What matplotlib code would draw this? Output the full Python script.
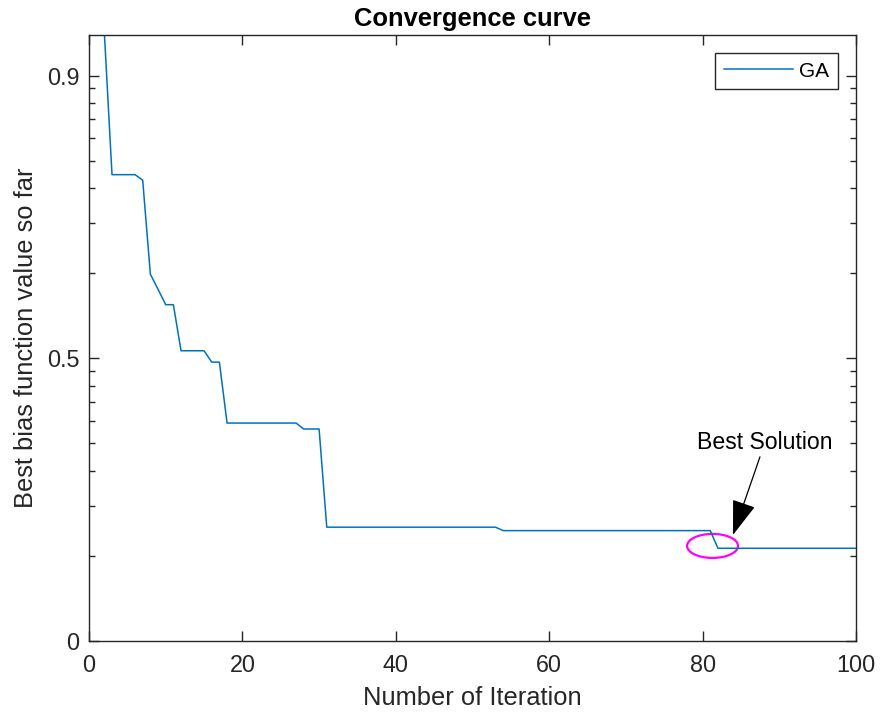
import matplotlib
matplotlib.use("Agg")
import matplotlib.pyplot as plt
from matplotlib.patches import Ellipse
from matplotlib.transforms import ScaledTranslation
from matplotlib.ticker import LogLocator, NullFormatter, FixedLocator, FixedFormatter

# ---- data (iterations where the curve changes, and best value there) ----
iterations = [1, 2, 3, 6, 7, 8, 9, 10, 11, 12, 15, 16, 17, 18, 27, 28, 30, 31, 53, 54, 81, 82, 100]
best_value = [1.71, 1.419, 0.446, 0.446, 0.4266, 0.1983, 0.1754, 0.1547, 0.1547, 0.1063, 0.1063,
              0.0969, 0.0969, 0.0590, 0.0590, 0.0562, 0.0562, 0.02527, 0.02527, 0.02457, 0.02457,
              0.02128, 0.02128]

x_ticks = [0, 20, 40, 60, 80, 100]
y_ticks = [0.01, 0.1, 1.0]
y_tick_labels = ["0", "0.5", "0.9"]

best_point = (81.3, 0.02169)      # circled point
arrow_tip = (83.96, 0.02372)
arrow_tail = (87.48, 0.04481)
label_pos = (88.1, 0.0502)

plt.rcParams['font.family'] = ['Liberation Sans', 'DejaVu Sans']
axc = '#262626'

fig = plt.figure(figsize=(8.83, 7.17), dpi=100)
ax = fig.add_axes([89/883, 76/717, 767/883, 606/717])

ax.plot(iterations, best_value, color='#0072BD', lw=1.1, label='GA')

ax.set_yscale('log')
ax.set_xlim(0, 100)
ax.set_ylim(0.01, 1.391)
ax.xaxis.set_major_locator(FixedLocator(x_ticks))
ax.yaxis.set_major_locator(FixedLocator(y_ticks))
ax.yaxis.set_major_formatter(FixedFormatter(y_tick_labels))
ax.yaxis.set_minor_locator(LogLocator(base=10, subs=[2, 3, 4, 5, 6, 7, 8, 9], numticks=20))
ax.yaxis.set_minor_formatter(NullFormatter())

for s in ax.spines.values():
    s.set_color(axc)
    s.set_linewidth(1.0)
ax.tick_params(which='both', direction='in', top=True, right=True, colors=axc,
               labelsize=16.8, width=1.0)
ax.tick_params(which='major', length=7)
ax.tick_params(axis='y', which='major', pad=7)
ax.tick_params(axis='x', which='major', pad=9)
ax.tick_params(which='minor', length=4)
for lab in ax.get_xticklabels() + ax.get_yticklabels():
    lab.set_color(axc)

ax.set_title('Convergence curve', fontsize=18.4, fontweight='bold', color='black', pad=6.5)
ax.set_xlabel('Number of Iteration', fontsize=18.4, color=axc, labelpad=7)
ax.set_ylabel('Best bias function value so far', fontsize=18.4, color=axc, labelpad=6)

leg = ax.legend(loc='upper right', bbox_to_anchor=(0.9765, 0.9703), borderaxespad=0,
                fontsize=15, fancybox=False, framealpha=1, edgecolor=axc,
                handlelength=3.3, borderpad=0.42, handletextpad=0.3)
leg.get_frame().set_linewidth(1.0)

# circle around the best solution
ell = Ellipse((0, 0), width=0.51, height=0.24, facecolor='none', edgecolor='#FF00FF', lw=1.6,
              transform=fig.dpi_scale_trans + ScaledTranslation(best_point[0], best_point[1], ax.transData))
ax.add_patch(ell)

ax.annotate('', xy=arrow_tip, xytext=arrow_tail,
            arrowprops=dict(arrowstyle='-|>,head_length=2.2,head_width=0.75', color='black',
                            lw=0.9, mutation_scale=10, shrinkA=0, shrinkB=0))
ax.text(label_pos[0], label_pos[1], 'Best Solution', fontsize=16.6, ha='center', va='center',
        color='black')

fig.savefig('out.png', dpi=100)
